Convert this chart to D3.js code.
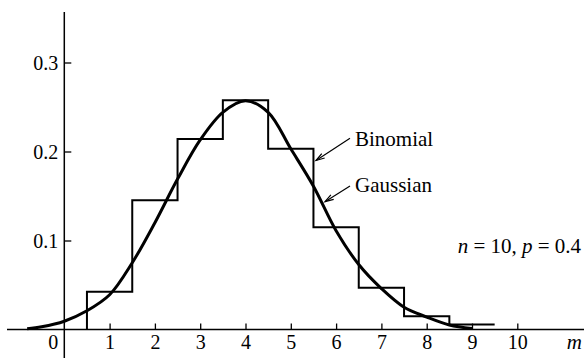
<!DOCTYPE html>
<html><head><meta charset="utf-8">
<script src="https://cdn.jsdelivr.net/npm/d3@7"></script>
<style>
html,body{margin:0;padding:0;background:#fff;}
svg text{font-family:'Liberation Serif','Times New Roman',Times,serif;fill:#000;}
</style></head>
<body>
<svg id="chart" width="584" height="358"></svg>
<script>
// Binomial histogram (n = 10, p = 0.4)
const binomM = [1, 2, 3, 4, 5, 6, 7, 8, 9];
const binomP = [0.0424, 0.1453, 0.214, 0.2576, 0.203, 0.115, 0.0468, 0.015, 0.0056];
// Gaussian curve, points
const gaussX = [-0.82, -0.5, 0, 0.5, 1, 1.5, 2, 2.5, 3, 3.5, 4, 4.5, 5, 5.5, 6, 6.5, 7, 7.5, 8, 8.5, 9];
const gaussY = [0.0008, 0.003, 0.0093, 0.021, 0.039, 0.075, 0.120, 0.169, 0.213, 0.244, 0.257, 0.244, 0.203, 0.161, 0.111, 0.073, 0.046, 0.025, 0.014, 0.005, 0.001];
const xTicks = [1, 2, 3, 4, 5, 6, 7, 8, 9, 10];
const yTicks = [0.1, 0.2, 0.3];
const labels = {binomial: "Binomial", gaussian: "Gaussian", xTitle: "m"};

const FONT = "'Liberation Serif','Times New Roman',Times,serif";
const svg = d3.select("#chart").attr("font-family", FONT);
const x = d3.scaleLinear().domain([0, 10]).range([64.3, 517.3]);
const y = d3.scaleLinear().domain([0, 0.3]).range([329.5, 62.5]);

// axes lines
svg.append("line").attr("x1", 7).attr("x2", 584).attr("y1", y(0)).attr("y2", y(0))
  .attr("stroke", "#000").attr("stroke-width", 1.5);
svg.append("line").attr("x1", x(0)).attr("x2", x(0)).attr("y1", 12).attr("y2", 358)
  .attr("stroke", "#000").attr("stroke-width", 1.5);

// y axis
const yAxis = d3.axisLeft(y).tickValues(yTicks).tickSizeInner(-7).tickSizeOuter(0).tickPadding(6)
  .tickFormat(d3.format(".1f"));
const gy = svg.append("g").attr("transform", `translate(${x(0)},0)`).call(yAxis)
  .attr("font-family", FONT).attr("font-size", 20);
gy.select(".domain").remove();
gy.selectAll("line").attr("stroke-width", 1.3);
gy.selectAll("text").attr("dy", "0.33em");

// x axis
const xAxis = d3.axisBottom(x).tickValues(xTicks).tickSizeInner(-6).tickSizeOuter(0).tickPadding(0)
  .tickFormat(d3.format("d"));
const gx = svg.append("g").attr("transform", `translate(0,${y(0)})`).call(xAxis)
  .attr("font-family", FONT).attr("font-size", 20);
gx.select(".domain").remove();
gx.selectAll("line").attr("stroke-width", 1.3);
gx.selectAll("text").attr("y", 19.5).attr("dy", null);
svg.append("text").attr("x", 53.3).attr("y", y(0) + 19.5).attr("font-size", 20)
  .attr("text-anchor", "middle").text("0");

// histogram
const histPts = [[0.5, 0]].concat(binomM.map((m, i) => [m - 0.5, binomP[i]]));
histPts.push([binomM[binomM.length - 1] + 0.5, binomP[binomP.length - 1]]);
const histLine = d3.line().x(d => x(d[0])).y(d => y(d[1])).curve(d3.curveStepAfter);
svg.append("path").attr("d", histLine(histPts)).attr("fill", "none")
  .attr("stroke", "#000").attr("stroke-width", 2).attr("stroke-linejoin", "miter");

// gaussian
const gLine = d3.line().x((d, i) => x(gaussX[i])).y(d => y(d)).curve(d3.curveCatmullRom);
svg.append("path").attr("d", gLine(gaussY)).attr("fill", "none")
  .attr("stroke", "#000").attr("stroke-width", 3);

// arrows
function arrow(x1, y1, x2, y2) {
  svg.append("line").attr("x1", x1).attr("y1", y1).attr("x2", x2).attr("y2", y2)
    .attr("stroke", "#000").attr("stroke-width", 1.2);
  const a = Math.atan2(y1 - y2, x1 - x2), L = 9, w = 0.3;
  const p = [[x2 + L * Math.cos(a + w), y2 + L * Math.sin(a + w)], [x2, y2],
             [x2 + L * Math.cos(a - w), y2 + L * Math.sin(a - w)]];
  svg.append("path").attr("d", "M" + p.map(q => q.join(",")).join("L"))
    .attr("fill", "none").attr("stroke", "#000").attr("stroke-width", 1.2);
}
arrow(350, 138.3, 316, 160.5);
arrow(350, 186, 325, 201.7);

svg.append("text").attr("x", 355).attr("y", 145.7).attr("font-size", 21).text(labels.binomial);
svg.append("text").attr("x", 355).attr("y", 191.7).attr("font-size", 21).text(labels.gaussian);

const t = svg.append("text").attr("x", 457.7).attr("y", 253.3).attr("font-size", 21);
t.append("tspan").attr("font-style", "italic").text("n");
t.append("tspan").text(" = 10, ");
t.append("tspan").attr("font-style", "italic").text("p");
t.append("tspan").text(" = 0.4");

svg.append("text").attr("x", 566.7).attr("y", 349).attr("font-size", 21)
  .attr("font-style", "italic").text(labels.xTitle);
</script>
</body></html>
